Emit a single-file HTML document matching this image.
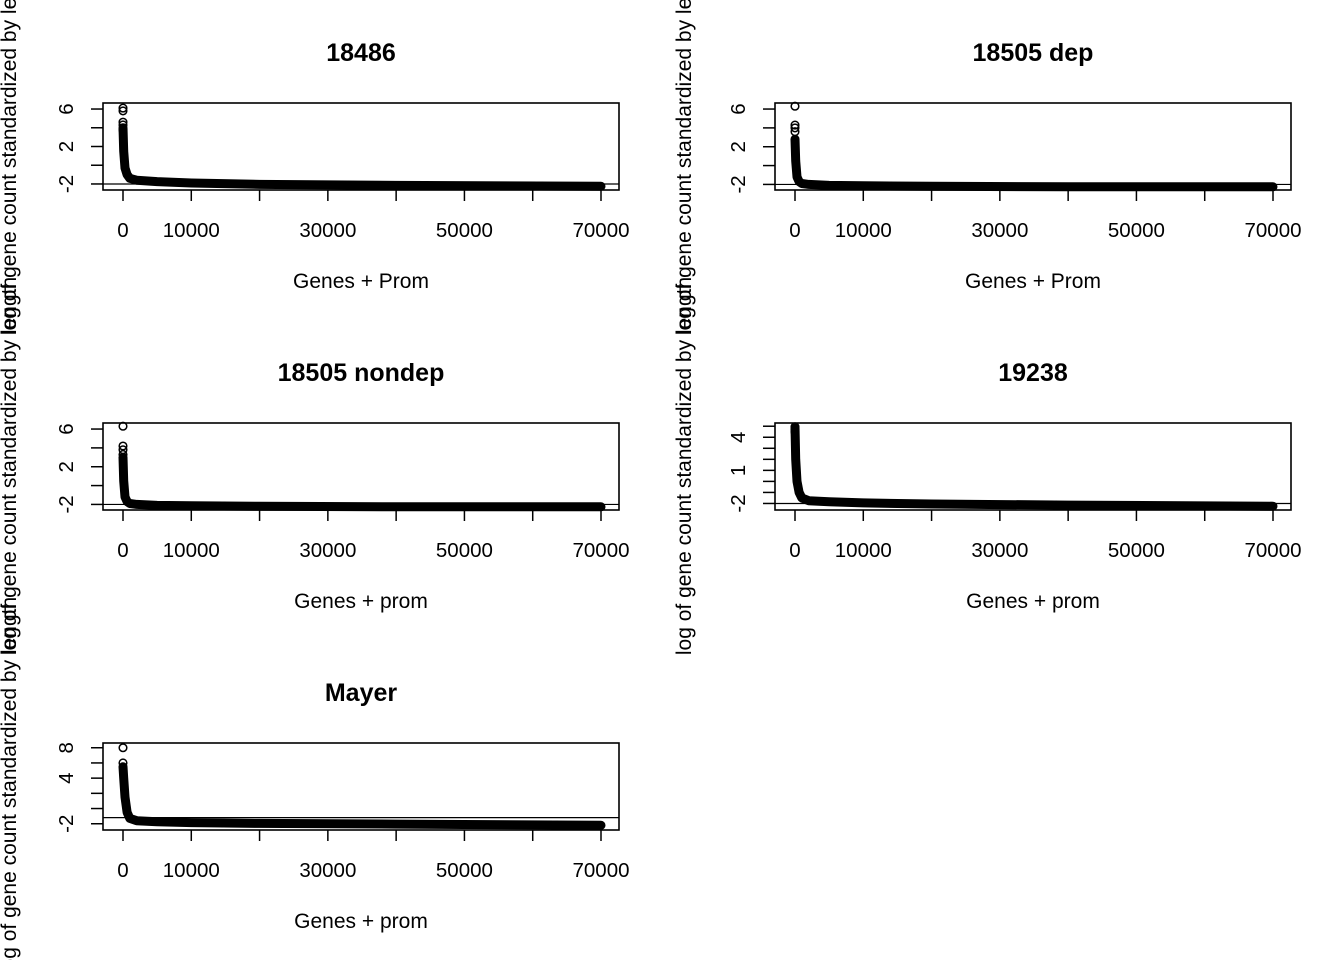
<!DOCTYPE html>
<html><head><meta charset="utf-8"><style>
html,body{margin:0;padding:0;background:#fff;}
svg{display:block;font-family:"Liberation Sans",Arial,sans-serif;}
</style></head><body>
<svg id="chart" width="1344" height="960" viewBox="0 0 1344 960" xmlns="http://www.w3.org/2000/svg"></svg>
<script>
const panelTitles = ["18486","18505 dep","18505 nondep","19238","Mayer"];
const xLabels = ["Genes + Prom","Genes + Prom","Genes + prom","Genes + prom","Genes + prom"];
const xTicks = [0,10000,20000,30000,40000,50000,60000,70000];
const xTickLabels = ["0","10000","","30000","","50000","","70000"];
const yLims = [[-2.3,6.3],[-2.25,6.3],[-2.25,6.3],[-2.3,5.0],[-2.4,8.2]];
const yTicks = [[-2,0,2,4,6],[-2,0,2,4,6],[-2,0,2,4,6],[-2,-1,0,1,2,3,4,5],[-2,0,2,4,6,8]];
const yTickLabels = [["-2","","2","","6"],["-2","","2","","6"],["-2","","2","","6"],["-2","","","1","","","4",""],["-2","","","4","","8"]];
const curveX = [0,100,300,600,1000,2000,5000,10000,20000,40000,70000];
const curveY = [
 [4.0,1.5,-0.3,-1.0,-1.4,-1.6,-1.75,-1.9,-2.05,-2.15,-2.25],
 [2.8,0.5,-1.2,-1.7,-1.9,-2.0,-2.1,-2.15,-2.2,-2.25,-2.25],
 [3.0,0.5,-1.2,-1.7,-1.9,-2.0,-2.1,-2.15,-2.2,-2.25,-2.25],
 [4.9,2.0,0.0,-1.0,-1.5,-1.75,-1.85,-1.95,-2.05,-2.15,-2.25],
 [5.5,4.0,1.5,-0.5,-1.3,-1.6,-1.75,-1.85,-1.95,-2.05,-2.2]
];
const outliers = [[6.1,5.8,4.6,4.3,3.8],[6.3,4.3,4.0,3.6],[6.3,4.2,3.8,3.3],[4.95,4.7,4.5],[8.0,6.0]];
const hLines = [-2.0,-2.0,-2.0,-2.0,-1.2];
const yAxisTitle = "log of gene count standardized by length";

const svg = document.getElementById('chart');
const NS = "http://www.w3.org/2000/svg";
function mk(tag, attrs, parent){const e=document.createElementNS(NS,tag);for(const k in attrs)e.setAttribute(k,attrs[k]);(parent||svg).appendChild(e);return e;}

for(let p=0;p<5;p++){
  const col=p%2,row=Math.floor(p/2);
  const bx0=col?775:103,bx1=col?1291:619,by0=103+row*320,by1=by0+87;
  const g=mk('g',{});
  
  
  const xs=v=>bx0+20+(v/70000)*478;
  const [lo,hi]=yLims[p];const pad=(hi-lo)*0.04;
  const ys=v=>by1-(v-(lo-pad))/((hi+pad)-(lo-pad))*(by1-by0);
  const cx=col?691:16, cy=by0+43;
  const yt=mk('text',{x:cx,y:cy,'font-size':21,'text-anchor':'middle',transform:`rotate(-90 ${cx} ${cy})`},g);
  yt.textContent=yAxisTitle;
  
  
  const t=mk('text',{x:(bx0+bx1)/2,y:by0-42,'font-size':25,'font-weight':'bold','text-anchor':'middle'},g);
  t.textContent=panelTitles[p];
  
  
  const xl=mk('text',{x:(bx0+bx1)/2,y:by1+98,'font-size':21,'text-anchor':'middle'},g);
  xl.textContent=xLabels[p];
  
  
  xTicks.forEach((v,i)=>{
    mk('line',{x1:xs(v),x2:xs(v),y1:by1,y2:by1+11,stroke:'#000','stroke-width':1.5},g);
    if(xTickLabels[i]){const tl=mk('text',{x:xs(v),y:by1+47,'font-size':20.5,'text-anchor':'middle'},g);tl.textContent=xTickLabels[i];
      
      }
  });
  yTicks[p].forEach((v,i)=>{
    mk('line',{x1:bx0,x2:bx0-12,y1:ys(v),y2:ys(v),stroke:'#000','stroke-width':1.5},g);
    const lab=yTickLabels[p][i];
    if(lab){const tx=bx0-30,ty=ys(v);const tl=mk('text',{x:tx,y:ty,'font-size':20.5,'text-anchor':'middle',transform:`rotate(-90 ${tx} ${ty})`},g);tl.textContent=lab;
      
      }
  });
  const hl=mk('line',{x1:bx0,x2:bx1,y1:ys(hLines[p]),y2:ys(hLines[p]),stroke:'#000','stroke-width':1.2},g);
  
  
  const d=curveX.map((v,i)=>(i?'L':'M')+xs(v).toFixed(1)+' '+ys(curveY[p][i]).toFixed(1)).join(' ');
  const c=mk('path',{d:d,fill:'none',stroke:'#000','stroke-width':9,'stroke-linejoin':'round','stroke-linecap':'round'},g);
  
  
  outliers[p].forEach(v=>{
    const o=mk('circle',{cx:xs(0),cy:ys(v),r:3.8,fill:'none',stroke:'#000','stroke-width':1.5},g);
    
    
  });
  const box=mk('rect',{x:bx0,y:by0,width:bx1-bx0,height:by1-by0,fill:'none',stroke:'#000','stroke-width':1.6},g);
  
  
}
</script>
</body></html>
